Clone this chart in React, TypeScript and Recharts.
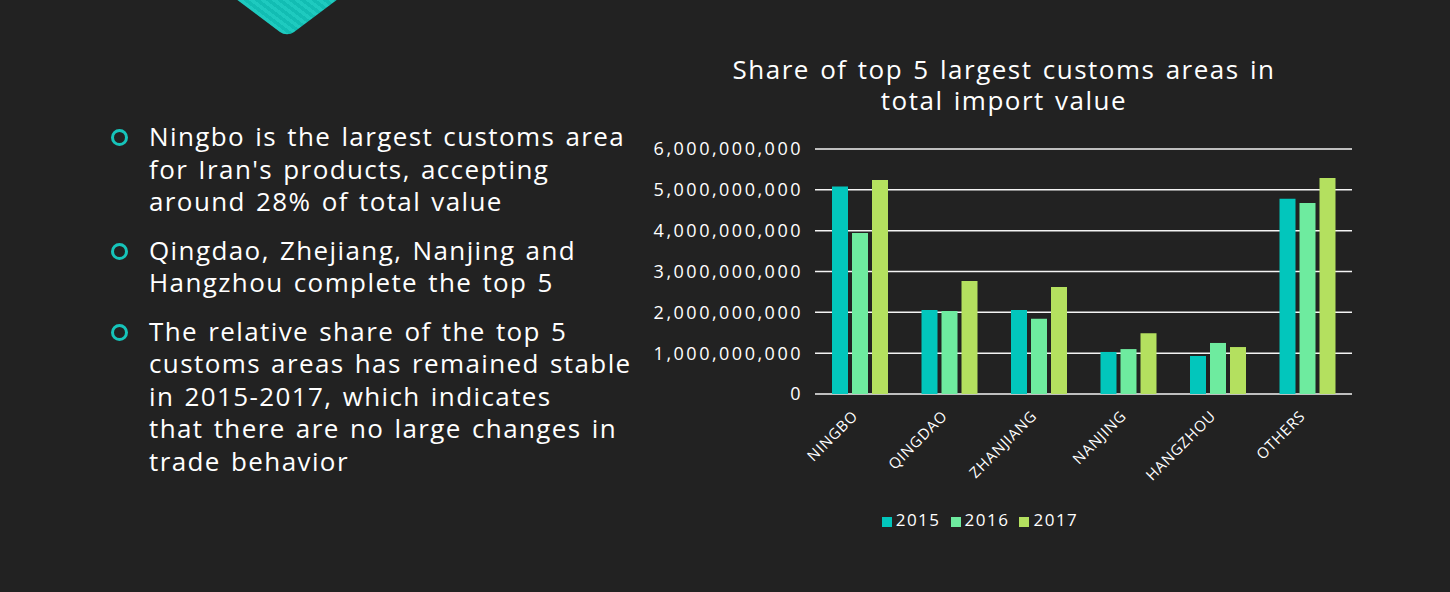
import React from 'react';
import { BarChart, Bar, XAxis, YAxis, CartesianGrid, Legend } from 'recharts';

const areas = ['NINGBO', 'QINGDAO', 'ZHANJIANG', 'NANJING', 'HANGZHOU', 'OTHERS'];
const v2015 = [5.08e9, 2.06e9, 2.06e9, 1.03e9, 0.93e9, 4.78e9];
const v2016 = [3.94e9, 2.03e9, 1.84e9, 1.1e9, 1.25e9, 4.68e9];
const v2017 = [5.24e9, 2.77e9, 2.62e9, 1.49e9, 1.15e9, 5.29e9];
const yTicks = [0, 1e9, 2e9, 3e9, 4e9, 5e9, 6e9];

const titleLines = ['Share of top 5 largest customs areas in', 'total import value'];

const bullets = [
  ['Ningbo is the largest customs area', "for Iran's products, accepting", 'around 28% of total value'],
  ['Qingdao, Zhejiang, Nanjing and', 'Hangzhou complete the top 5'],
  [
    'The relative share of the top 5',
    'customs areas has remained stable',
    'in 2015-2017, which indicates',
    'that there are no large changes in',
    'trade behavior',
  ],
];

const data = areas.map((name, i) => ({ name, y2015: v2015[i], y2016: v2016[i], y2017: v2017[i] }));

const FONT = '"Open Sans", "DejaVu Sans", sans-serif';
const C15 = '#02c6bc';
const C16 = '#6eeb9f';
const C17 = '#b4e05f';

function AreaTick(props: any) {
  const { x, y, payload } = props;
  return (
    <g transform={`translate(${x - 1},${y + 15})`}>
      <text
        x={0}
        y={0}
        textAnchor="end"
        transform="rotate(-45)"
        fill="#ffffff"
        fontSize={15}
        fontFamily={FONT}
        letterSpacing={0.8}
      >
        {payload.value}
      </text>
    </g>
  );
}

export default function App() {
  return (
    <div
      style={{
        position: 'absolute',
        left: 0,
        top: 0,
        width: 1450,
        height: 592,
        background: '#222222',
        overflow: 'hidden',
        fontFamily: FONT,
        color: '#ffffff',
      }}
    >
      {/* striped teal corner shape */}
      <div
        style={{
          position: 'absolute',
          left: 217,
          top: -107,
          width: 140,
          height: 140,
          borderRadius: 10,
          transform: 'scaleY(0.75) rotate(45deg)',
          background:
            'repeating-linear-gradient(0deg, #1ecabf 0px, #1ecabf 4px, #12bdb3 4px, #12bdb3 8px)',
        }}
      />

      <div style={{ position: 'absolute', left: 108, top: 120, width: 560 }}>
        {bullets.map((lines, i) => (
          <div key={i} style={{ position: 'relative', paddingLeft: 41, marginBottom: 16 }}>
            <div
              style={{
                position: 'absolute',
                left: 3,
                top: 9,
                width: 11,
                height: 11,
                borderRadius: '50%',
                border: '3px solid #16c4ba',
              }}
            />
            <div style={{ fontSize: 26, lineHeight: '32.5px', letterSpacing: 1.4, wordSpacing: 2 }}>
              {lines.map((l, j) => (
                <div key={j} style={{ whiteSpace: 'nowrap' }}>
                  {l}
                </div>
              ))}
            </div>
          </div>
        ))}
      </div>

      <div style={{ position: 'absolute', left: 680, top: 54, width: 648, textAlign: 'center' }}>
        {titleLines.map((t, i) => (
          <div
            key={i}
            style={{ height: 31, fontSize: 26, lineHeight: '31px', letterSpacing: 1.5, wordSpacing: 2, overflow: 'visible' }}
          >
            {t}
          </div>
        ))}
      </div>

      <div style={{ position: 'absolute', left: 640, top: 130 }}>
        <BarChart
          width={720}
          height={420}
          data={data}
          margin={{ top: 19, right: 8, left: 0, bottom: 20 }}
          barSize={16}
          barGap={4}
        >
          <CartesianGrid vertical={false} stroke="#f4f4f4" strokeWidth={1.5} />
          <XAxis
            dataKey="name"
            axisLine={false}
            tickLine={false}
            height={100}
            interval={0}
            tick={<AreaTick />}
          />
          <YAxis
            width={175}
            domain={[0, 6e9]}
            ticks={yTicks}
            axisLine={false}
            tickLine={false}
            tickSize={0}
            tickMargin={12}
            tickFormatter={(v: number) => v.toLocaleString('en-US')}
            tick={{ fill: '#ffffff', fontSize: 18, fontFamily: FONT, letterSpacing: 2.5 }}
          />
          <Legend
            verticalAlign="bottom"
            height={36}
            iconType="square"
            iconSize={10}
            wrapperStyle={{ left: -11, bottom: 6 }}
            formatter={(value: string) => (
              <span style={{ color: '#ffffff', fontSize: 17, fontFamily: FONT, letterSpacing: 1.5 }}>{value}</span>
            )}
          />
          <Bar dataKey="y2015" name="2015" fill={C15} isAnimationActive={false} />
          <Bar dataKey="y2016" name="2016" fill={C16} isAnimationActive={false} />
          <Bar dataKey="y2017" name="2017" fill={C17} isAnimationActive={false} />
        </BarChart>
      </div>
    </div>
  );
}
